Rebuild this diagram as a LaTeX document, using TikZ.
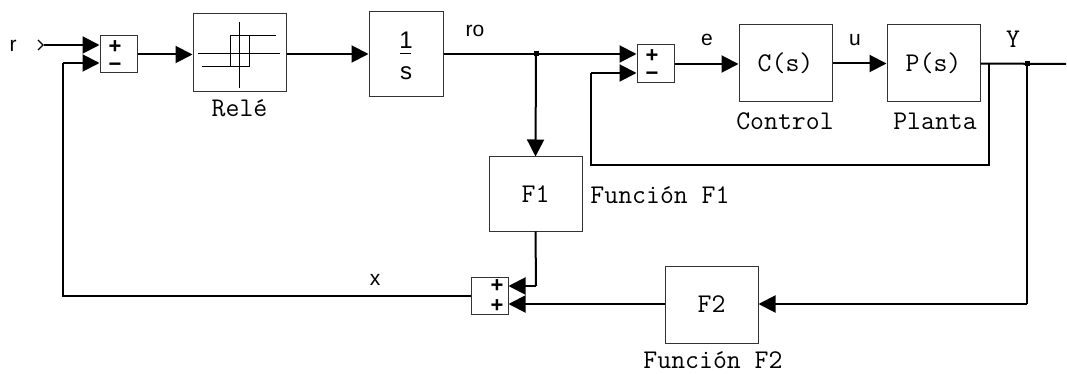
\documentclass[tikz,border=0pt]{standalone}
\usepackage{fontspec}
\newfontfamily\sansf{Liberation Sans}
\usetikzlibrary{arrows.meta}
\begin{document}
\begin{tikzpicture}[x=1pt,y=-1pt,
  blk/.style={draw=black!80,line width=1pt,fill=white,inner sep=0pt,minimum width=93pt},
  sumb/.style={draw=black!80,line width=1pt,fill=white,inner sep=0pt,minimum width=37pt,minimum height=37pt},
  wire/.style={line width=2pt},
  arr/.style={wire,-{Triangle[length=17pt,width=17pt]}},
  mtxt/.style={font=\ttfamily\fontsize{27}{30}\selectfont,inner sep=0pt},
  stxt/.style={font=\sansf\fontsize{21}{24}\selectfont,inner sep=0pt},
  ftxt/.style={font=\sansf\fontsize{24}{26}\selectfont,inner sep=0pt},
  sgn/.style={font=\sansf\fontsize{22}{22}\selectfont,inner sep=0pt},
  dot/.style={fill=black,inner sep=0pt,minimum size=5pt}
]
\useasboundingbox (0,0) rectangle (1067,374);
% blocks
\node[sumb] (sum1) at (118.5,54.5) {};
\node[blk,minimum height=78pt] (rele) at (239.5,53) {};
\node[blk,minimum width=74pt,minimum height=85pt] (integ) at (406,54.5) {};
\node[sumb,minimum height=38pt] (sum2) at (655.5,64) {};
\node[blk,minimum height=77pt] (C) at (785.5,63.5) {};
\node[blk,minimum height=77pt] (P) at (933.5,63.5) {};
\node[blk,minimum height=74pt] (F1) at (535.5,194) {};
\node[sumb] (sum3) at (489.5,295.5) {};
\node[blk,minimum height=77pt] (F2) at (711.5,304.5) {};
% block contents
\node[mtxt] (tC) at (C.center) {C(s)};
\node[mtxt] (tP) at (P.center) {P(s)};
\node[mtxt] (tF1) at (F1.center) {F1};
\node[mtxt] (tF2) at (F2.center) {F2};
\node[ftxt] (one) at (406,40) {1};
\node[ftxt] (ess) at (406,73) {s};
\draw[line width=1pt] (400,54) -- (411,54);
% relay symbol
\begin{scope}[line width=1pt]
\draw (198,54) -- (280,54);
\draw (239,22) -- (239,88);
\draw (230,36) -- (276,36);
\draw (202,67) -- (249,67);
\draw (230,36) -- (230,67);
\draw (249,36) -- (249,67);
\end{scope}
% signs
\node[sgn] (s1p) at (115,47) {\textbf{+}};
\node[sgn] (s1m) at (115,67) {\textbf{−}};
\node[sgn] (s2p) at (652,56) {\textbf{+}};
\node[sgn] (s2m) at (652,76) {\textbf{−}};
\node[sgn] (s3p) at (497,286) {\textbf{+}};
\node[sgn] (s3q) at (497,306) {\textbf{+}};
% labels
\node[stxt] (lr) at (13,46) {r};
\node[stxt] (lro) at (475,31) {ro};
\node[stxt] (le) at (707,40) {e};
\node[stxt] (lu) at (855,40) {u};
\node[mtxt] (lY) at (1013,39) {Y};
\node[stxt] (lx) at (375,280) {x};
\node[mtxt] (lrele) at (239.5,108) {Relé};
\node[mtxt] (lctl) at (785,121) {Control};
\node[mtxt] (lpl) at (935,121) {Planta};
\node[mtxt] (lf1) at (660,195) {Función F1};
\node[mtxt] (lf2) at (713,360) {Función F2};
% coordinates
\coordinate (rin) at (44,45);
\coordinate (j1) at (536,54);
\coordinate (j2) at (1027,64);
\coordinate (b1) at (989,64);
\coordinate (out) at (1066,64);
% input chevron
\draw[line width=1.4pt] (38,40) -- (43,45) -- (38,50);
% connectors
\draw[arr] (rin) -- (rin -| sum1.west);
\draw[arr] (sum1.east) -- (sum1.east -| rele.west);
\draw[arr] (rele.east |- 0,54) -- (integ.west |- 0,54);
\draw[wire] (integ.east |- 0,54) -- (j1);
\draw[arr] (j1) -- (j1 -| sum2.west);
\draw[arr] (j1) -- (F1.north);
\draw[arr] (sum2.east) -- (sum2.east -| C.west);
\draw[arr] (C.east) -- (C.east -| P.west);
\draw[wire] (P.east) -- (out);
\draw[wire] (b1) -- (989,165) -- (591,165) -- (591,73);
\draw[arr] (591,73) -- (sum2.west |- 0,73);
\draw[wire] (j2) -- (1027,304);
\draw[arr] (1027,304) -- (F2.east |- 0,304);
\draw[arr] (F2.west |- 0,304) -- (sum3.east |- 0,304);
\draw[wire] (F1.south) -- (536,286);
\draw[arr] (536,286) -- (sum3.east |- 0,286);
\draw[wire] (sum3.west) -- (63,295.5) -- (63,63);
\draw[arr] (63,63) -- (sum1.west |- 0,63);
% junction dots
\node[dot] (d1) at (j1) {};
\node[dot] (d2) at (j2) {};
\end{tikzpicture}
\end{document}
